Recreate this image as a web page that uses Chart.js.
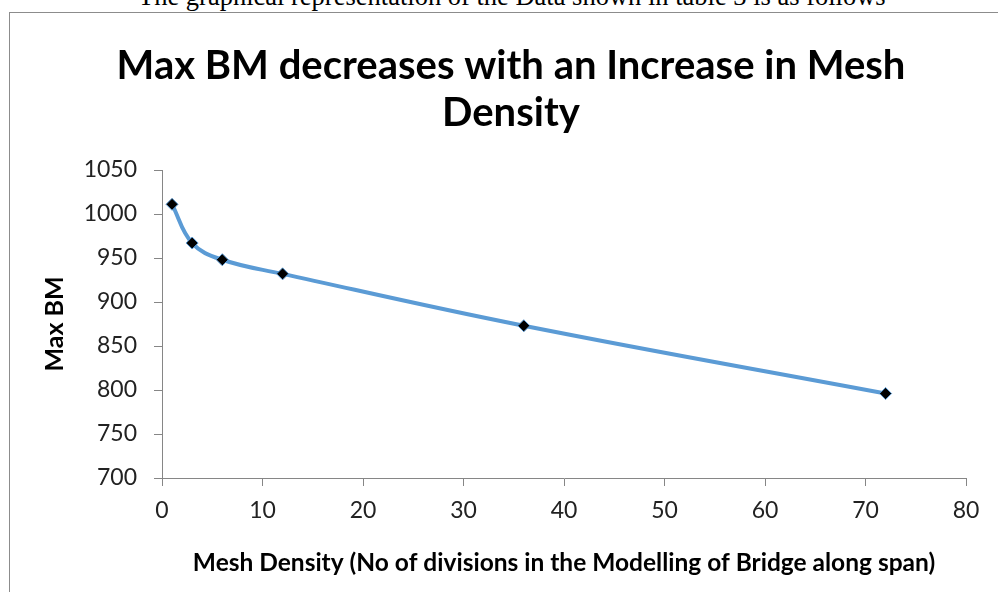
<!DOCTYPE html>
<html>
<head>
<meta charset="utf-8">
<script src="https://cdn.jsdelivr.net/npm/chart.js@4/dist/chart.umd.min.js"></script>
<style>
  body { margin: 0; background: #fff; width: 998px; height: 592px; overflow: hidden; position: relative; }
  #caption {
    position: absolute; left: 138px; top: -17px;
    font-family: "Liberation Serif", "Times New Roman", serif;
    font-size: 26.5px; line-height: 26px; white-space: nowrap; color: #000;
  }
  #box {
    position: absolute; left: 9px; top: 12px; width: 1000px; height: 600px;
    border: 1px solid #8c8c8c; overflow: hidden; background: #fff;
  }
  #chart { position: absolute; left: 0; top: 0; }
</style>
</head>
<body>
<div id="caption">The graphical representation of the Data shown in table 3 is as follows</div>
<div id="box"><canvas id="chart" width="989" height="579"></canvas></div>
<script>
// mesh density (no. of divisions) vs max bending moment
const meshDivisions = [1, 3, 6, 12, 36, 72];
const maxBM = [1011, 967, 948, 932, 873, 796];

const titleLines = ['Max BM decreases with an Increase in Mesh', 'Density'];
const xTitle = 'Mesh Density (No of divisions in the Modelling of Bridge along span)';
const yTitle = 'Max BM';

const axisGray = '#868686';
const lineBlue = '#5B9BD5';

const points = meshDivisions.map((x, i) => ({ x: x, y: maxBM[i] }));

new Chart(document.getElementById('chart').getContext('2d'), {
    type: 'scatter',
    data: {
        datasets: [{
            label: 'Max BM',
            data: points,
            showLine: true,
            tension: 0.4,
            borderColor: lineBlue,
            borderWidth: 4,
            pointStyle: 'rectRot',
            pointRadius: 6,
            pointBackgroundColor: '#000',
            pointBorderColor: lineBlue,
            pointBorderWidth: 1
        }]
    },
    options: {
        responsive: false,
        animation: false,
        // left padding only there to centre the title like the original
        layout: { padding: { left: 46, right: 33, top: 0, bottom: 0 } },
        plugins: {
            legend: { display: false },
            tooltip: { enabled: false },
            title: {
                display: true,
                text: titleLines,
                color: '#000',
                font: { family: 'Lato', size: 40, weight: 'bold', lineHeight: '47px' },
                padding: { top: 30, bottom: 33 }
            }
        },
        scales: {
            x: {
                type: 'linear',
                min: 0,
                max: 80,
                ticks: {
                    stepSize: 10,
                    padding: 11,
                    color: '#222',
                    font: { family: 'Lato', size: 23 },
                    callback: (v) => String(v)
                },
                grid: { drawOnChartArea: false, tickLength: 8, color: axisGray },
                border: { color: axisGray, width: 1 },
                title: {
                    display: true,
                    text: xTitle,
                    color: '#000',
                    font: { family: 'Lato', size: 24.5, weight: 'bold', lineHeight: 1.2 },
                    padding: { top: 0, bottom: 14 }
                },
                afterFit: (scale) => { scale.height = 114; }
            },
            y: {
                min: 700,
                max: 1050,
                ticks: {
                    stepSize: 50,
                    padding: 17,
                    color: '#222',
                    font: { family: 'Lato', size: 23 },
                    callback: (v) => String(v)
                },
                grid: { drawOnChartArea: false, tickLength: 8, color: axisGray },
                border: { color: axisGray, width: 1 },
                title: {
                    display: true,
                    text: yTitle,
                    color: '#000',
                    font: { family: 'Lato', size: 25, weight: 'bold', lineHeight: 1.2 },
                    padding: { top: -16, bottom: 0 }
                },
                afterFit: (scale) => { scale.width = 106; }
            }
        }
    }
});
</script>
</body>
</html>
